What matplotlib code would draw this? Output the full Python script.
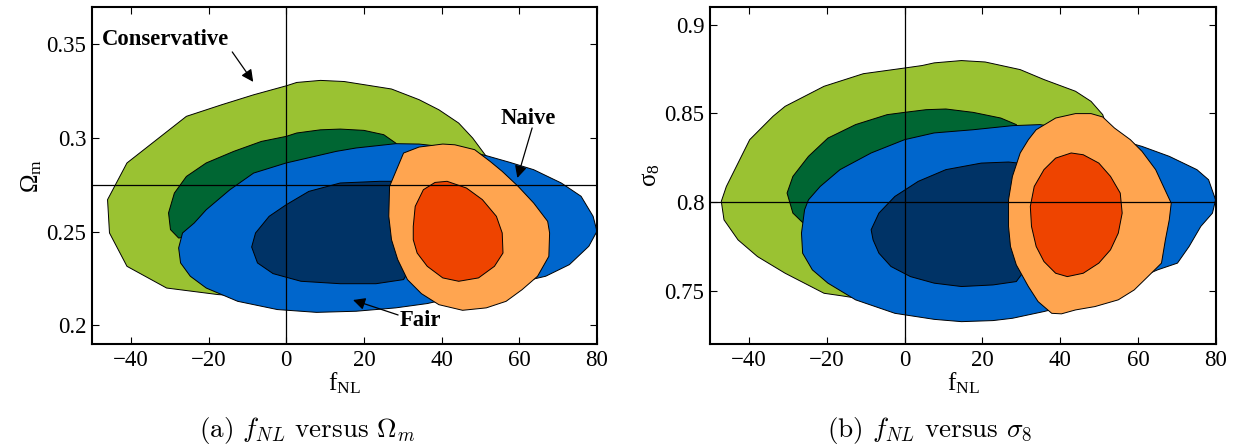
import matplotlib
matplotlib.use('Agg')
import matplotlib.pyplot as plt

plt.rcParams['font.family'] = ['Liberation Serif', 'DejaVu Serif']
plt.rcParams['mathtext.fontset'] = 'custom'
plt.rcParams['mathtext.rm'] = 'Liberation Serif'
plt.rcParams['mathtext.it'] = 'Liberation Serif:italic'
plt.rcParams['mathtext.bf'] = 'Liberation Serif:bold'

# colours of the six contour levels
c_cons_out = '#9AC232'
c_cons_in = '#006633'
c_fair_out = '#0066CC'
c_fair_in = '#003366'
c_naive_out = '#FFA550'
c_naive_in = '#EE4400'

# ---- panel (a): f_NL vs Omega_m  (contour outlines)
a_cons_out_x = [-25.7, -16.6, -8.4, 0, 2.7, 8.8, 14.9, 27.1, 34.2, 39.3, 44.4, 48.0, 51.5,
                53.6, 48.5, 28.2, 2.7, -17.6, -30.8, -41.0, -45.5, -46.0, -41.0]
a_cons_out_y = [0.3116, 0.3178, 0.3231, 0.3279, 0.3297, 0.3308, 0.3302, 0.3262, 0.3205, 0.3151, 0.3080, 0.3000, 0.2902,
                0.2742, 0.2404, 0.2173, 0.2137, 0.2164, 0.2199, 0.2315, 0.2493, 0.2671, 0.2867]
a_cons_in_x = [-27.7, -29.8, -30.3, -28.8, -25.7, -20.6, -13.5, -6.4, 0, 2.7, 8.8, 13.9, 20.0, 25.1, 28.2,
               32.2, 23.1, 2.7, -17.6]
a_cons_in_y = [0.2466, 0.2511, 0.2600, 0.2706, 0.2795, 0.2867, 0.2929, 0.2982, 0.3009, 0.3027, 0.3044, 0.3048, 0.3041, 0.3018, 0.2973,
               0.2849, 0.2671, 0.2564, 0.2493]
a_fair_out_x = [-27.7, -27.2, -24.7, -20.6, -12.5, -2.3, 7.8, 18.0, 28.2, 36.3, 48.5, 66.8, 72.9, 77.9, 80.0,
                79.0, 75.9, 70.8, 63.7, 57.6, 51.5, 43.4, 34.2, 28.2, 18.0, 12.9, 0, -8.4, -14.5, -20.6, -23.7, -26.7]
a_fair_out_y = [0.2413, 0.2333, 0.2262, 0.2199, 0.2128, 0.2084, 0.2069, 0.2075, 0.2093, 0.2116, 0.2173, 0.2262, 0.2324, 0.2422, 0.2502,
                0.2582, 0.2689, 0.2760, 0.2831, 0.2870, 0.2906, 0.2947, 0.2968, 0.2970, 0.2947, 0.2929, 0.2867, 0.2813, 0.2724, 0.2617, 0.2546, 0.2493]
a_fair_in_x = [-8.9, -7.9, -4.4, 0, 5.8, 13.9, 24.1, 29.2, 34.2, 34.2, 30.2, 23.1, 13.9, 3.8, -3.4, -7.4]
a_fair_in_y = [0.2418, 0.2493, 0.2582, 0.2644, 0.2715, 0.2760, 0.2769, 0.2769, 0.2671, 0.2386, 0.2244, 0.2222, 0.2222, 0.2235, 0.2276, 0.2333]
a_naive_out_x = [30.2, 26.6, 26.4, 27.1, 28.7, 31.2, 34.8, 39.3, 45.4, 51.5, 56.6, 60.7, 64.7, 67.6, 67.8,
                 67.3, 63.7, 59.7, 55.6, 52.5, 48.5, 43.4, 40.3, 34.2]
a_naive_out_y = [0.2920, 0.2742, 0.2582, 0.2457, 0.2351, 0.2244, 0.2169, 0.2110, 0.2080, 0.2093, 0.2128, 0.2190, 0.2262, 0.2368, 0.2493,
                 0.2555, 0.2653, 0.2742, 0.2822, 0.2875, 0.2938, 0.2964, 0.2968, 0.2952]
a_naive_in_x = [32.7, 33.2, 35.3, 38.3, 41.4, 46.4, 50.5, 54.1, 55.6, 55.8, 53.6, 49.5, 44.4, 40.3, 36.3, 33.7, 32.7]
a_naive_in_y = [0.2528, 0.2635, 0.2724, 0.2763, 0.2769, 0.2733, 0.2671, 0.2582, 0.2493, 0.2386, 0.2315, 0.2253, 0.2235, 0.2253, 0.2315, 0.2386, 0.2457]

# ---- panel (b): f_NL vs sigma_8
b_cons_out_x = [-47.1, -46.4, -42.8, -37.8, -30.7, -20.7, -16.6, 7.6, 32.8, 52.9, 53.9, 50.9, 47.9, 43.9, 35.8,
                29.7, 20.7, 14.6, 7.6, 4.5, 0, -10.6, -20.7, -30.7, -33.8, -39.8, -42.8, -45.8]
b_cons_out_y = [0.8004, 0.7900, 0.7787, 0.7693, 0.7599, 0.7486, 0.7473, 0.7392, 0.7449, 0.7825, 0.8295, 0.8493, 0.8568, 0.8625, 0.8691,
                0.8747, 0.8790, 0.8798, 0.8785, 0.8770, 0.8756, 0.8724, 0.8653, 0.8540, 0.8484, 0.8352, 0.8220, 0.8088]
b_cons_in_x = [-26.2, -28.7, -30.2, -28.7, -24.7, -19.7, -12.6, -4.5, 0, 5.5, 10.6, 17.6, 24.7, 28.7,
               31.8, 17.6, -2.5, -20.7]
b_cons_in_y = [0.7885, 0.7938, 0.8051, 0.8145, 0.8258, 0.8361, 0.8437, 0.8493, 0.8506, 0.8521, 0.8525, 0.8506, 0.8474, 0.8437,
               0.8295, 0.8126, 0.8013, 0.7900]
b_fair_out_x = [-25.7, -26.5, -26.2, -23.7, -19.7, -12.6, -2.5, 7.6, 14.6, 22.7, 27.7, 35.8, 47.9, 61.0, 65.0,
                70.1, 73.1, 76.1, 79.1, 79.9, 78.1, 75.1, 68.0, 61.0, 58.0, 47.9, 34.8, 27.7, 17.6, 7.6, 0,
                -8.6, -16.6, -21.7, -24.7]
b_fair_out_y = [0.7957, 0.7825, 0.7712, 0.7618, 0.7543, 0.7449, 0.7373, 0.7339, 0.7326, 0.7332, 0.7345, 0.7383, 0.7449, 0.7580, 0.7618,
                0.7656, 0.7750, 0.7863, 0.7938, 0.8013, 0.8126, 0.8183, 0.8258, 0.8314, 0.8333, 0.8390, 0.8437, 0.8431, 0.8408, 0.8390, 0.8352,
                0.8277, 0.8183, 0.8088, 0.8013]
b_fair_in_x = [-8.6, -6.6, -2.5, 3.5, 10.6, 19.7, 26.7, 29.2, 32.8, 32.8, 28.7, 22.7, 14.6, 7.6, 1.5, -3.5, -6.6, -8.1]
b_fair_in_y = [0.7844, 0.7938, 0.8032, 0.8117, 0.8183, 0.8220, 0.8226, 0.8220, 0.8107, 0.7674, 0.7552, 0.7533, 0.7524, 0.7543, 0.7580,
               0.7637, 0.7712, 0.7787]
b_naive_out_x = [33.8, 38.8, 43.9, 47.9, 50.9, 53.9, 58.0, 61.0, 64.5, 66.5, 68.5, 68.0, 67.0, 66.0, 62.5,
                 59.0, 54.9, 48.9, 43.9, 40.3, 37.8, 34.3, 31.8, 28.7, 27.2, 26.7, 26.7, 27.7, 29.7, 31.8]
b_naive_out_y = [0.8408, 0.8474, 0.8499, 0.8499, 0.8480, 0.8418, 0.8352, 0.8286, 0.8183, 0.8088, 0.7994, 0.7900, 0.7787, 0.7656, 0.7580,
                 0.7505, 0.7449, 0.7411, 0.7392, 0.7370, 0.7373, 0.7439, 0.7524, 0.7646, 0.7750, 0.7863, 0.8013, 0.8145, 0.8277, 0.8352]
b_naive_in_x = [32.3, 33.3, 35.8, 38.8, 42.8, 45.9, 49.9, 52.9, 55.4, 55.9, 54.9, 52.9, 49.9, 45.9, 41.8,
                38.8, 35.8, 33.8, 32.6]
b_naive_in_y = [0.7976, 0.8088, 0.8183, 0.8248, 0.8277, 0.8267, 0.8220, 0.8145, 0.8051, 0.7938, 0.7825, 0.7731, 0.7656, 0.7599, 0.7580,
                0.7599, 0.7665, 0.7750, 0.7863]

# fiducial lines
a_fid = (0, 0.275)
b_fid = (0, 0.8)

xticks = [-40, -20, 0, 20, 40, 60, 80]
a_yticks = [0.2, 0.25, 0.3, 0.35]
a_yticklabels = ['0.2', '0.25', '0.3', '0.35']
b_yticks = [0.75, 0.8, 0.85, 0.9]
b_yticklabels = ['0.75', '0.8', '0.85', '0.9']

# labels on panel (a): text position, arrow tail, arrow head
labels = ['Conservative', 'Naive', 'Fair']
label_pos = [(-31, 0.3527), (62.3, 0.3107), (34.5, 0.2028)]
arrow_tail = [(-13.9, 0.346), (63.3, 0.3054), (28.8, 0.2055)]
arrow_head = [(-8.5, 0.330), (59.5, 0.2787), (17.2, 0.2135)]

fig = plt.figure(figsize=(12.35, 4.46), dpi=100)
ax1 = fig.add_axes([0.0745, 0.2287, 0.4089, 0.7556])
ax2 = fig.add_axes([0.5749, 0.2287, 0.4097, 0.7556])


def draw_panel(ax, layers, fid, ylim, yticks, yticklabels, ylabel):
	for xs, ys, col in layers:
		ax.fill(xs, ys, facecolor=col, edgecolor='k', linewidth=0.7, zorder=2)
	ax.axvline(fid[0], color='k', lw=0.9, zorder=3)
	ax.axhline(fid[1], color='k', lw=0.9, zorder=3)
	ax.set_xlim(-50, 80)
	ax.set_ylim(*ylim)
	ax.set_xticks(xticks)
	ax.set_xticklabels(['\u2212%d' % -t if t < 0 else '%d' % t for t in xticks])
	ax.set_yticks(yticks)
	ax.set_yticklabels(yticklabels)
	ax.tick_params(direction='in', top=True, right=True, labelsize=16.5, length=5, width=0.8, pad=4)
	for s in ax.spines.values():
		s.set_linewidth(1.5)
	ax.set_xlabel(r'$\mathrm{f}_{\mathrm{NL}}$', fontsize=18, labelpad=0)
	ax.set_ylabel(ylabel, fontsize=18, labelpad=2)


draw_panel(ax1,
	[(a_cons_out_x, a_cons_out_y, c_cons_out), (a_cons_in_x, a_cons_in_y, c_cons_in),
	 (a_fair_out_x, a_fair_out_y, c_fair_out), (a_fair_in_x, a_fair_in_y, c_fair_in),
	 (a_naive_out_x, a_naive_out_y, c_naive_out), (a_naive_in_x, a_naive_in_y, c_naive_in)],
	a_fid, (0.19, 0.37), a_yticks, a_yticklabels, r'$\Omega_{\mathrm{m}}$')
draw_panel(ax2,
	[(b_cons_out_x, b_cons_out_y, c_cons_out), (b_cons_in_x, b_cons_in_y, c_cons_in),
	 (b_fair_out_x, b_fair_out_y, c_fair_out), (b_fair_in_x, b_fair_in_y, c_fair_in),
	 (b_naive_out_x, b_naive_out_y, c_naive_out), (b_naive_in_x, b_naive_in_y, c_naive_in)],
	b_fid, (0.72, 0.91), b_yticks, b_yticklabels, r'$\mathrm{\sigma}_{8}$')

arr = dict(arrowstyle='-|>', color='k', lw=0.9, mutation_scale=18, shrinkA=0, shrinkB=0)
for lab, pos, tail, head in zip(labels, label_pos, arrow_tail, arrow_head):
	ax1.text(pos[0], pos[1], lab, fontsize=16.3, fontweight='bold', ha='center', va='center', zorder=5)
	ax1.annotate('', xy=head, xytext=tail, arrowprops=arr, zorder=5)

fig.text(307 / 1235, 1 - 431 / 446, r'(a) $f_{NL}$ versus $\Omega_m$', family='cmr10',
	math_fontfamily='cm', fontsize=19.5, ha='center', va='center')
fig.text(930 / 1235, 1 - 431 / 446, r'(b) $f_{NL}$ versus $\sigma_8$', family='cmr10',
	math_fontfamily='cm', fontsize=19.5, ha='center', va='center')

fig.savefig('out.png', dpi=100)
